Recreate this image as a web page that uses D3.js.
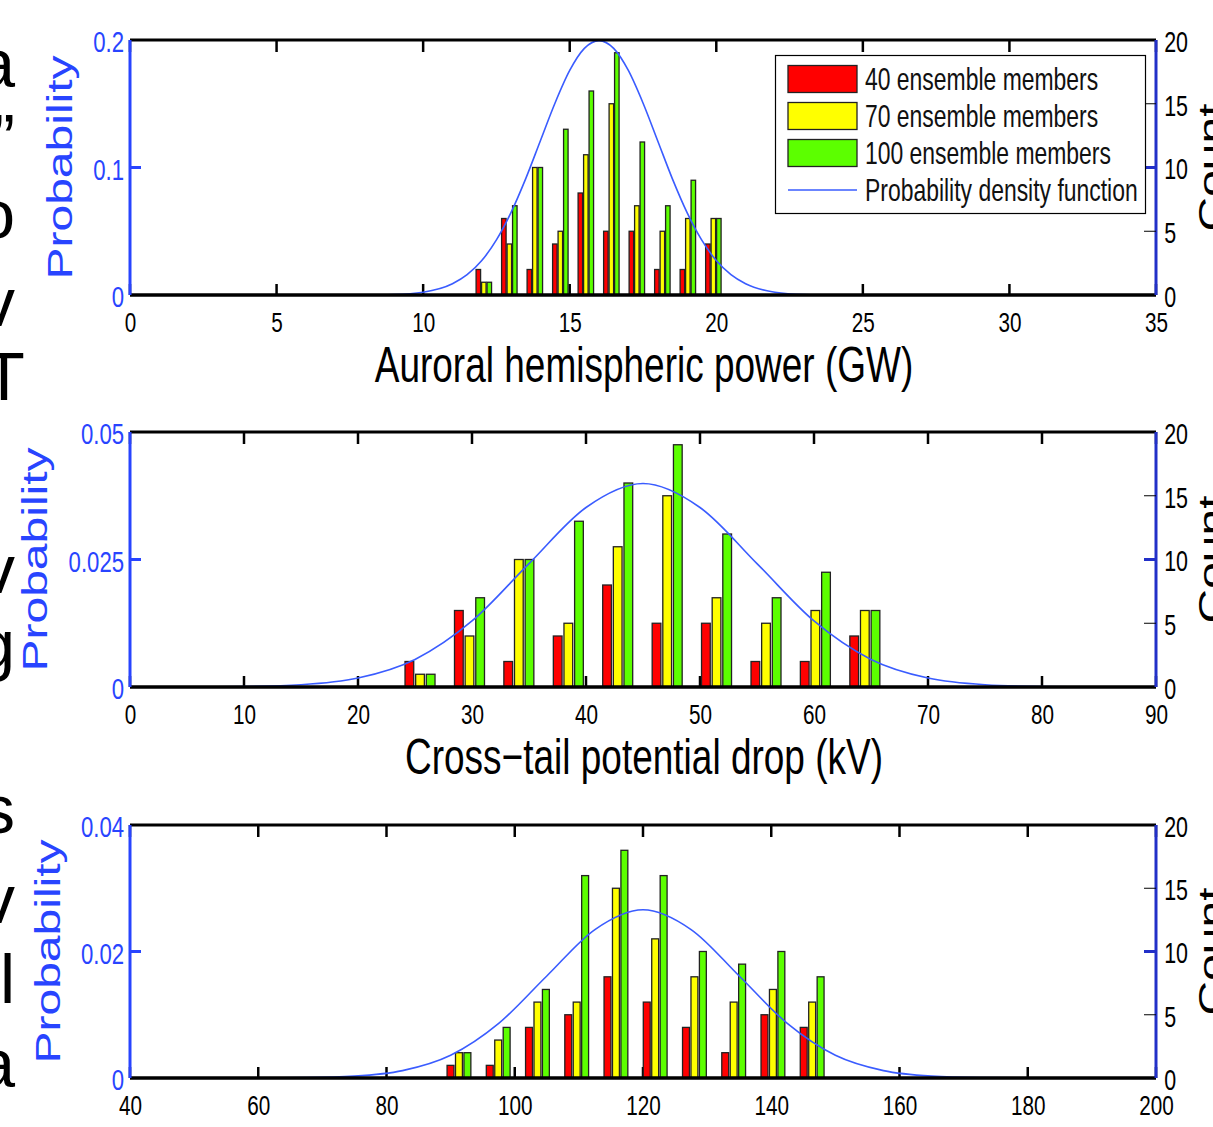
<!DOCTYPE html>
<html>
<head>
<meta charset="utf-8">
<script src="https://cdn.jsdelivr.net/npm/d3@7"></script>
<style>
body { margin: 0; background: #fff; }
svg { display: block; font-family: "Liberation Sans", Arial, Helvetica, sans-serif; }
</style>
</head>
<body>
<svg id="fig" width="1213" height="1127"></svg>
<script>
// ensemble histograms + fitted pdf, three quantities

var seriesNames = ["40 ensemble members", "70 ensemble members", "100 ensemble members"];
var seriesColors = ["#ff0000", "#ffff00", "#5cff00"];
var pdfName = "Probability density function";

// panel 1: auroral hemispheric power
var powerBins = [12.07, 12.94, 13.81, 14.68, 15.55, 16.42, 17.29, 18.16, 19.03, 19.90];
var power40 = [2, 6, 2, 4, 8, 5, 5, 2, 2, 4];
var power70 = [1, 4, 10, 5, 11, 15, 7, 5, 6, 6];
var power100 = [1, 7, 10, 13, 16, 19, 12, 7, 9, 6];
var powerPdfX = [0, 6, 7, 8, 9, 10, 11, 11.5, 12, 12.5, 13, 13.5, 14, 14.5, 15, 15.5, 16,
	16.5, 17, 17.5, 18, 18.5, 19, 19.5, 20, 20.5, 21, 22, 23, 24, 25, 26, 35];
var powerPdfY = [0, 0, 0.00001, 0.00007, 0.0004, 0.0022, 0.0088, 0.0159, 0.027, 0.0432, 0.0648, 0.0913, 0.121, 0.1506, 0.1761, 0.1934, 0.1995,
	0.1934, 0.1761, 0.1506, 0.121, 0.0913, 0.0648, 0.0432, 0.027, 0.0159, 0.0088, 0.0022, 0.0004, 0.00007, 0.00001, 0, 0];
var powerXTicks = [0, 5, 10, 15, 20, 25, 30, 35];
var powerPTicks = [0, 0.1, 0.2];
var powerPLabels = ["0", "0.1", "0.2"];

// panel 2: cross-tail potential drop
var ctpdBins = [25.44, 29.78, 34.11, 38.45, 42.78, 47.12, 51.45, 55.79, 60.12, 64.46];
var ctpd40 = [2, 6, 2, 4, 8, 5, 5, 2, 2, 4];
var ctpd70 = [1, 4, 10, 5, 11, 15, 7, 5, 6, 6];
var ctpd100 = [1, 7, 10, 13, 16, 19, 12, 7, 9, 6];
var ctpdPdfX = [0, 5, 10, 15, 20, 25, 30, 35, 40, 45, 50, 55, 60, 65, 70, 75, 80, 85, 90];
var ctpdPdfY = [0, 0.00001, 0.00009, 0.00044, 0.00175, 0.0054, 0.01295, 0.0242, 0.0352, 0.0399,
	0.0352, 0.0242, 0.01295, 0.0054, 0.00175, 0.00044, 0.00009, 0.00001, 0];
var ctpdXTicks = [0, 10, 20, 30, 40, 50, 60, 70, 80, 90];
var ctpdPTicks = [0, 0.025, 0.05];
var ctpdPLabels = ["0", "0.025", "0.05"];

// panel 3: third quantity (label below the crop)
var p3Bins = [91.3, 97.42, 103.54, 109.66, 115.78, 121.9, 128.02, 134.14, 140.26, 146.38];
var p3Count40 = [1, 1, 4, 5, 8, 6, 4, 2, 5, 4];
var p3Count70 = [2, 3, 6, 6, 15, 11, 8, 6, 7, 6];
var p3Count100 = [2, 4, 7, 16, 18, 16, 10, 9, 10, 8];
var p3PdfX = [40, 52.5, 60, 67.5, 75, 82.5, 90, 97.5, 105, 112.5, 120, 127.5, 135, 142.5, 150, 157.5, 165, 172.5, 180, 187.5, 200];
var p3PdfY = [0, 0, 0.000009, 0.00006, 0.0003, 0.00117, 0.0036, 0.00864, 0.01613, 0.02347, 0.0266,
	0.02347, 0.01613, 0.00864, 0.0036, 0.00117, 0.0003, 0.00006, 0.000009, 0, 0];
var p3XTicks = [40, 60, 80, 100, 120, 140, 160, 180, 200];
var p3PTicks = [0, 0.02, 0.04];
var p3PLabels = ["0", "0.02", "0.04"];

var countTicks = [0, 5, 10, 15, 20];

// cut-off letters of the neighbouring text column
var sideLetters = ["a", "\u201d", "o", "v", "T", "v", "g", "s", "v", "l", "a"];
var sideBaselines = [87, 162, 238, 326, 400, 593, 668, 833, 923, 1003, 1087];

var svg = d3.select("#fig");
var lPad = 130, rEdge = 1156;
var sx = 0.74; // the figure is squeezed horizontally
var blue = "#2844ff", darkBlue = "#2230c8", curveBlue = "#3a5cff";

svg.append("g").selectAll("text")
	.data(sideLetters)
	.enter().append("text")
	.attr("x", function(d) { return d === "T" ? 4 : 15; })
	.attr("y", function(d, i) { return sideBaselines[i]; })
	.attr("text-anchor", function(d) { return d === "T" ? "middle" : "end"; })
	.style("font-size", "68px")
	.attr("fill", "#000")
	.text(function(d) { return d; });

var squeeze = function(sel) {
	sel.attr("transform", "scale(" + sx + ",1)");
};

var drawPanel = function(p) {
	var g = svg.append("g");
	var x = d3.scaleLinear().domain(p.xD).range([lPad, rEdge]);
	var yC = d3.scaleLinear().domain([0, 20]).range([p.bottom, p.top]);
	var yP = d3.scaleLinear().domain([0, p.pMax]).range([p.bottom, p.top]);

	// bottom / top ticks (inward)
	g.append("g").selectAll("line")
		.data(p.xTicks)
		.enter().append("line")
		.attr("x1", x).attr("x2", x)
		.attr("y1", p.bottom).attr("y2", p.bottom - 11)
		.attr("stroke", "#000").attr("stroke-width", 2.5);
	g.append("g").selectAll("line")
		.data(p.xTicks)
		.enter().append("line")
		.attr("x1", x).attr("x2", x)
		.attr("y1", p.top).attr("y2", p.top + 12)
		.attr("stroke", "#000").attr("stroke-width", 2.5);

	// grouped bars
	var step = x(p.bins[1]) - x(p.bins[0]);
	var slot = 0.215 * step, bw = 0.82 * slot;
	p.counts.forEach(function(c, s) {
		g.append("g").selectAll("rect")
			.data(c)
			.enter().append("rect")
			.attr("x", function(d, i) { return x(p.bins[i]) + (s - 1) * slot - bw / 2; })
			.attr("y", function(d) { return yC(d); })
			.attr("width", bw)
			.attr("height", function(d) { return yC(0) - yC(d); })
			.attr("fill", seriesColors[s])
			.attr("stroke", "#222")
			.attr("stroke-width", 1.3);
	});

	// pdf curve
	var line = d3.line()
		.x(function(d) { return x(d[0]); })
		.y(function(d) { return yP(d[1]); })
		.curve(d3.curveMonotoneX);
	g.append("path")
		.datum(p.pdfX.map(function(v, i) { return [v, p.pdfY[i]]; }))
		.attr("d", line)
		.attr("fill", "none")
		.attr("stroke", curveBlue)
		.attr("stroke-width", 1.6);

	// box
	g.append("line").attr("x1", lPad).attr("x2", rEdge).attr("y1", p.top).attr("y2", p.top)
		.attr("stroke", "#000").attr("stroke-width", 3);
	g.append("line").attr("x1", lPad).attr("x2", rEdge).attr("y1", p.bottom).attr("y2", p.bottom)
		.attr("stroke", "#000").attr("stroke-width", 3.5);
	g.append("line").attr("x1", lPad).attr("x2", lPad).attr("y1", p.top).attr("y2", p.bottom)
		.attr("stroke", blue).attr("stroke-width", 3);
	g.append("line").attr("x1", rEdge).attr("x2", rEdge).attr("y1", p.top).attr("y2", p.bottom)
		.attr("stroke", darkBlue).attr("stroke-width", 3);

	// probability tick (left, blue) and count ticks (right)
	g.append("line").attr("x1", lPad).attr("x2", lPad + 11)
		.attr("y1", yP(p.pTicks[1])).attr("y2", yP(p.pTicks[1]))
		.attr("stroke", blue).attr("stroke-width", 3);
	g.append("g").selectAll("line")
		.data([5, 10, 15])
		.enter().append("line")
		.attr("x1", rEdge - 12).attr("x2", rEdge)
		.attr("y1", yC).attr("y2", yC)
		.attr("stroke", function(d) { return d === 10 ? darkBlue : "#000"; })
		.attr("stroke-width", function(d) { return d === 10 ? 3 : 1; });

	// tick labels through d3 axes
	var ax = g.append("g")
		.attr("transform", "translate(0," + p.bottom + ")")
		.call(d3.axisBottom(x).tickValues(p.xTicks).tickSize(0).tickPadding(17)
			.tickFormat(d3.format("d")));
	var ay = g.append("g")
		.attr("transform", "translate(" + lPad + ",2)")
		.call(d3.axisLeft(yP).tickValues(p.pTicks).tickSize(0).tickPadding(8)
			.tickFormat(function(d, i) { return p.pLabels[i]; }));
	var ac = g.append("g")
		.attr("transform", "translate(" + rEdge + ",2)")
		.call(d3.axisRight(yC).tickValues(countTicks).tickSize(0).tickPadding(11));
	[ax, ay, ac].forEach(function(a) {
		a.select(".domain").remove();
		a.attr("font-family", null).attr("font-size", null);
		a.selectAll("text").call(squeeze);
	});
	ax.selectAll("text").attr("fill", "#000").style("font-size", "28px");
	ac.selectAll("text").attr("fill", "#000").style("font-size", "29px");
	ay.selectAll("text").attr("fill", blue).style("font-size", "30px");

	// axis titles
	var mid = (p.top + p.bottom) / 2;
	g.append("text")
		.attr("transform", "translate(" + p.yLabX + "," + mid + ") scale(" + sx + ",1) rotate(-90)")
		.attr("text-anchor", "middle")
		.style("font-size", "48px")
		.attr("fill", blue)
		.text("Probability");
	g.append("text")
		.attr("transform", "translate(1223," + mid + ") scale(" + sx + ",1) rotate(-90)")
		.attr("text-anchor", "middle")
		.style("font-size", "48px")
		.attr("fill", "#000")
		.text("Count");
	if (p.xLabel) {
		g.append("text")
			.attr("transform", "translate(" + ((lPad + rEdge) / 2 + 1) + "," + (p.bottom + 87) + ") scale(" + sx + ",1)")
			.attr("text-anchor", "middle")
			.style("font-size", "50px")
			.attr("fill", "#000")
			.text(p.xLabel);
	}
	return g;
} // end of drawPanel

drawPanel({
	xD: [0, 35], top: 40, bottom: 295, pMax: 0.2,
	bins: powerBins, counts: [power40, power70, power100],
	pdfX: powerPdfX, pdfY: powerPdfY,
	xTicks: powerXTicks, pTicks: powerPTicks, pLabels: powerPLabels,
	yLabX: 72, xLabel: "Auroral hemispheric power (GW)"
});
drawPanel({
	xD: [0, 90], top: 432, bottom: 687, pMax: 0.05,
	bins: ctpdBins, counts: [ctpd40, ctpd70, ctpd100],
	pdfX: ctpdPdfX, pdfY: ctpdPdfY,
	xTicks: ctpdXTicks, pTicks: ctpdPTicks, pLabels: ctpdPLabels,
	yLabX: 47, xLabel: "Cross\u2212tail potential drop (kV)"
});
drawPanel({
	xD: [40, 200], top: 825, bottom: 1078, pMax: 0.04,
	bins: p3Bins, counts: [p3Count40, p3Count70, p3Count100],
	pdfX: p3PdfX, pdfY: p3PdfY,
	xTicks: p3XTicks, pTicks: p3PTicks, pLabels: p3PLabels,
	yLabX: 60, xLabel: null
});

// legend (top panel)
var legend = svg.append("g");
legend.append("rect")
	.attr("x", 775.5).attr("y", 55.5).attr("width", 370).attr("height", 158)
	.attr("fill", "#fff").attr("stroke", "#000").attr("stroke-width", 1.2);
var legRows = seriesNames.concat([pdfName]);
var legY = d3.scalePoint().domain(legRows).range([79, 190]);
legend.selectAll("rect.sw")
	.data(seriesNames)
	.enter().append("rect")
	.attr("class", "sw")
	.attr("x", 788).attr("width", 69)
	.attr("y", function(d) { return legY(d) - 13.5; })
	.attr("height", 27)
	.attr("fill", function(d, i) { return seriesColors[i]; })
	.attr("stroke", "#222").attr("stroke-width", 1.3);
legend.append("line")
	.attr("x1", 788).attr("x2", 857)
	.attr("y1", legY(pdfName)).attr("y2", legY(pdfName))
	.attr("stroke", curveBlue).attr("stroke-width", 1.5);
legend.selectAll("text")
	.data(legRows)
	.enter().append("text")
	.attr("transform", function(d) { return "translate(865," + (legY(d) + 11) + ") scale(" + sx + ",1)"; })
	.style("font-size", "31px")
	.attr("fill", "#111")
	.text(function(d) { return d; });
</script>
</body>
</html>
